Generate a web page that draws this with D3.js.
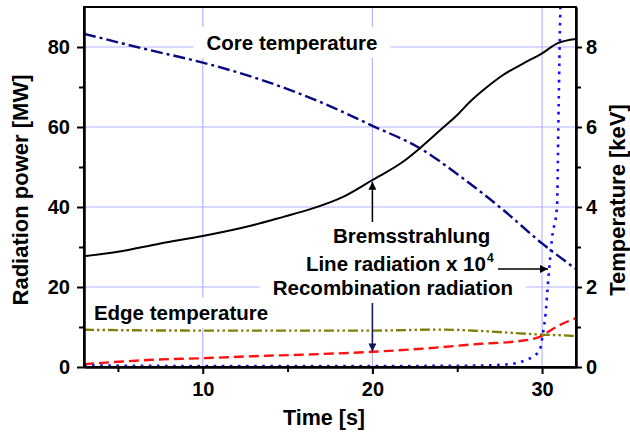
<!DOCTYPE html>
<html>
<head>
<meta charset="utf-8">
<script src="https://cdn.jsdelivr.net/npm/d3@7"></script>
<style>
body { margin: 0; background: #fff; }
svg { display: block; font-family: Arial, "Liberation Sans", sans-serif; font-weight: bold; }
</style>
</head>
<body>
<svg id="chart"></svg>
<script>
// ticks
var timeTicks = [10, 20, 30];
var timeMinor = [5, 15, 25];
var powerTicks = [0, 20, 40, 60, 80];
var powerMinor = [10, 30, 50, 70];
var tempTicks = [0, 2, 4, 6, 8];
var tempMinor = [1, 3, 5, 7];

// series: [time s, value]  (power in MW, temperature in keV)
var bremsstrahlung = [[3,27.7],[5,28.8],[7.5,30.9],[10,32.75],[13,35.5],[14.8,37.6],[16.3,39.4],[18.3,42.6],[20,46.75],[21.8,51.3],[22.8,54.7],[24.2,60],[25,63],[25.75,66.3],[26.7,69.8],[27.7,73],[28.9,75.9],[30,78.4],[30.9,80.9],[32,82]];
var lineRadiation = [[3,0.4],[6,0.3],[10,0.25],[15,0.25],[20,0.25],[25,0.3],[27,0.45],[28,0.7],[28.6,1.1],[29.2,2],[29.6,3],[29.85,4],[29.96,6],[30.08,9.2],[30.2,13],[30.33,20],[30.6,32.6],[30.88,40],[30.98,66],[31.08,90],[31.15,100]];
var recombination = [[3,0.7],[5,1.3],[7,1.8],[10,2.2],[13,2.7],[16,3.1],[20,3.8],[23,4.6],[26.4,5.8],[28.7,6.5],[29.9,7.6],[30.7,9.7],[31.3,11],[32,12.2]];
var coreTemperature = [[3,8.33],[6.7,7.94],[10,7.61],[13.8,7.13],[16.9,6.63],[20,6.03],[22.8,5.47],[25.2,4.76],[27.7,3.93],[30,3.09],[32,2.45]];
var edgeTemperature = [[3,0.93],[10,0.91],[20,0.91],[24,0.935],[26.4,0.9],[29.1,0.83],[30,0.81],[31.7,0.78],[32,0.77]];

var width = 630, height = 432;
var x = d3.scaleLinear().domain([3, 32]).range([84, 576]);
var yP = d3.scaleLinear().domain([0, 90]).range([367, 7]);
var yT = d3.scaleLinear().domain([0, 9]).range([367, 7]);

var svg = d3.select("#chart").attr("width", width).attr("height", height);

svg.append("defs").append("clipPath").attr("id", "plot")
	.append("rect")
	.attr("x", x.range()[0]).attr("y", yP.range()[1])
	.attr("width", x.range()[1] - x.range()[0])
	.attr("height", yP.range()[0] - yP.range()[1]);

var markers = [["arrowBlack", "#000"], ["arrowNavy", "#14145a"]];
svg.select("defs").selectAll("marker")
	.data(markers)
	.enter().append("marker")
	.attr("id", function(d) { return d[0]; })
	.attr("viewBox", "0 -5 10 10")
	.attr("refX", 10)
	.attr("refY", 0)
	.attr("markerUnits", "userSpaceOnUse")
	.attr("markerWidth", 9)
	.attr("markerHeight", 8)
	.attr("orient", "auto")
	.append("path")
	.attr("d", "M0,-5L10,0L0,5Z")
	.attr("fill", function(d) { return d[1]; });

var gridG = svg.append("g");
var boxG = svg.append("g");
var curveG = svg.append("g").attr("clip-path", "url(#plot)");
var axisG = svg.append("g");
var textG = svg.append("g");
var arrowG = svg.append("g");

// grid
gridG.selectAll("line.h")
	.data(powerTicks.filter(function(d) { return d > 0; }))
	.enter().append("line")
	.attr("x1", x.range()[0]).attr("x2", x.range()[1])
	.attr("y1", yP).attr("y2", yP)
	.attr("stroke", "#b4b4ff").attr("stroke-width", 1.2);
gridG.selectAll("line.v")
	.data(timeTicks)
	.enter().append("line")
	.attr("x1", x).attr("x2", x)
	.attr("y1", yP.range()[0]).attr("y2", yP.range()[1])
	.attr("stroke", "#b4b4ff").attr("stroke-width", 1.2);

// curves
var lineP = d3.line().x(function(d) { return x(d[0]); }).y(function(d) { return yP(d[1]); }).curve(d3.curveMonotoneX);
var lineT = d3.line().x(function(d) { return x(d[0]); }).y(function(d) { return yT(d[1]); }).curve(d3.curveMonotoneX);

var series = [
	{ data: edgeTemperature, line: lineT, color: "#80800a", width: 2.4, dash: "10,3,2.5,3,2.5,3" },
	{ data: coreTemperature, line: lineT, color: "#0a0a80", width: 2.4, dash: "12,4,3,4" },
	{ data: recombination, line: lineP, color: "#ff1010", width: 2.4, dash: "10,5" },
	{ data: lineRadiation, line: lineP, color: "#1010ff", width: 2.6, dash: "2.6,5.5" },
	{ data: bremsstrahlung, line: lineP, color: "#000", width: 2, dash: null }
];
series.forEach(function(s) {
	curveG.append("path")
		.attr("d", s.line(s.data))
		.attr("fill", "none")
		.attr("stroke", s.color)
		.attr("stroke-width", s.width)
		.attr("stroke-dasharray", s.dash);
});

// axes
function styleAxis(g) {
	g.attr("font-family", null).attr("font-size", 20).attr("font-weight", "bold");
	g.selectAll("path, line").attr("stroke", "#000").attr("stroke-width", 2);
	g.selectAll("text").attr("fill", "#000");
}
axisG.append("g").attr("transform", "translate(" + x.range()[0] + ",0)")
	.call(d3.axisLeft(yP).tickValues(powerTicks).tickSize(7).tickPadding(7).tickSizeOuter(0)).call(styleAxis);
axisG.append("g").attr("transform", "translate(" + x.range()[0] + ",0)")
	.call(d3.axisLeft(yP).tickValues(powerMinor).tickSize(5).tickFormat("").tickSizeOuter(0)).call(styleAxis);
axisG.append("g").attr("transform", "translate(" + x.range()[1] + ",0)")
	.call(d3.axisRight(yT).tickValues(tempTicks).tickSize(6).tickPadding(4).tickSizeOuter(0)).call(styleAxis);
axisG.append("g").attr("transform", "translate(" + x.range()[1] + ",0)")
	.call(d3.axisRight(yT).tickValues(tempMinor).tickSize(5).tickFormat("").tickSizeOuter(0)).call(styleAxis);
axisG.append("g").attr("transform", "translate(0," + yP.range()[0] + ")")
	.call(d3.axisBottom(x).tickValues(timeTicks).tickSize(7).tickPadding(8).tickSizeOuter(0)).call(styleAxis);
axisG.append("g").attr("transform", "translate(0," + yP.range()[0] + ")")
	.call(d3.axisBottom(x).tickValues(timeMinor).tickSize(5).tickFormat("").tickSizeOuter(0)).call(styleAxis);
axisG.append("rect")
	.attr("x", x.range()[0]).attr("y", yP.range()[1])
	.attr("width", x.range()[1] - x.range()[0])
	.attr("height", yP.range()[0] - yP.range()[1])
	.attr("fill", "none").attr("stroke", "#000").attr("stroke-width", 2);

// axis titles
axisG.append("text")
	.attr("transform", "translate(28,190) rotate(-90)")
	.attr("text-anchor", "middle").attr("font-size", 22)
	.text("Radiation power [MW]");
axisG.append("text")
	.attr("transform", "translate(625,200) rotate(-90)")
	.attr("text-anchor", "middle").attr("font-size", 22)
	.text("Temperature [keV]");
axisG.append("text")
	.attr("x", 324).attr("y", 425)
	.attr("text-anchor", "middle").attr("font-size", 21.5)
	.text("Time [s]");

// annotations: [label, time, MW, anchor]
var labels = [
	["Core temperature", 15.26, 79.25, "middle"],
	["Edge temperature", 8.72, 11.75, "middle"],
	["Bremsstrahlung", 22.31, 31, "middle"],
	["Line radiation x 10", 16.08, 24, "start"],
	["Recombination radiation", 21.21, 18, "middle"]
];
labels.forEach(function(l) {
	var t = textG.append("text")
		.attr("x", x(l[1])).attr("y", yP(l[2]))
		.attr("text-anchor", l[3]).attr("font-size", 20.5)
		.text(l[0]);
	if (l[0].indexOf("10") > 0) {
		t.append("tspan").attr("dx", 1).attr("dy", -9).attr("font-size", 12).text("4");
	}
	var b = t.node().getBBox();
	boxG.append("rect")
		.attr("x", b.x - 13).attr("y", b.y - 4)
		.attr("width", b.width + 26).attr("height", b.height + 8)
		.attr("fill", "#fff");
});

// arrows: [t1, MW1, t2, MW2, marker]
var arrows = [
	[20, 36.25, 20, 46.3, "arrowBlack", "#000"],
	[27.4, 24.5, 30.35, 24.5, "arrowBlack", "#000"],
	[20, 16, 20, 3.9, "arrowNavy", "#14145a"]
];
arrowG.selectAll("line")
	.data(arrows)
	.enter().append("line")
	.attr("x1", function(d) { return x(d[0]); })
	.attr("y1", function(d) { return yP(d[1]); })
	.attr("x2", function(d) { return x(d[2]); })
	.attr("y2", function(d) { return yP(d[3]); })
	.attr("stroke", function(d) { return d[5]; })
	.attr("stroke-width", 1.5)
	.attr("marker-end", function(d) { return "url(#" + d[4] + ")"; });
</script>
</body>
</html>
